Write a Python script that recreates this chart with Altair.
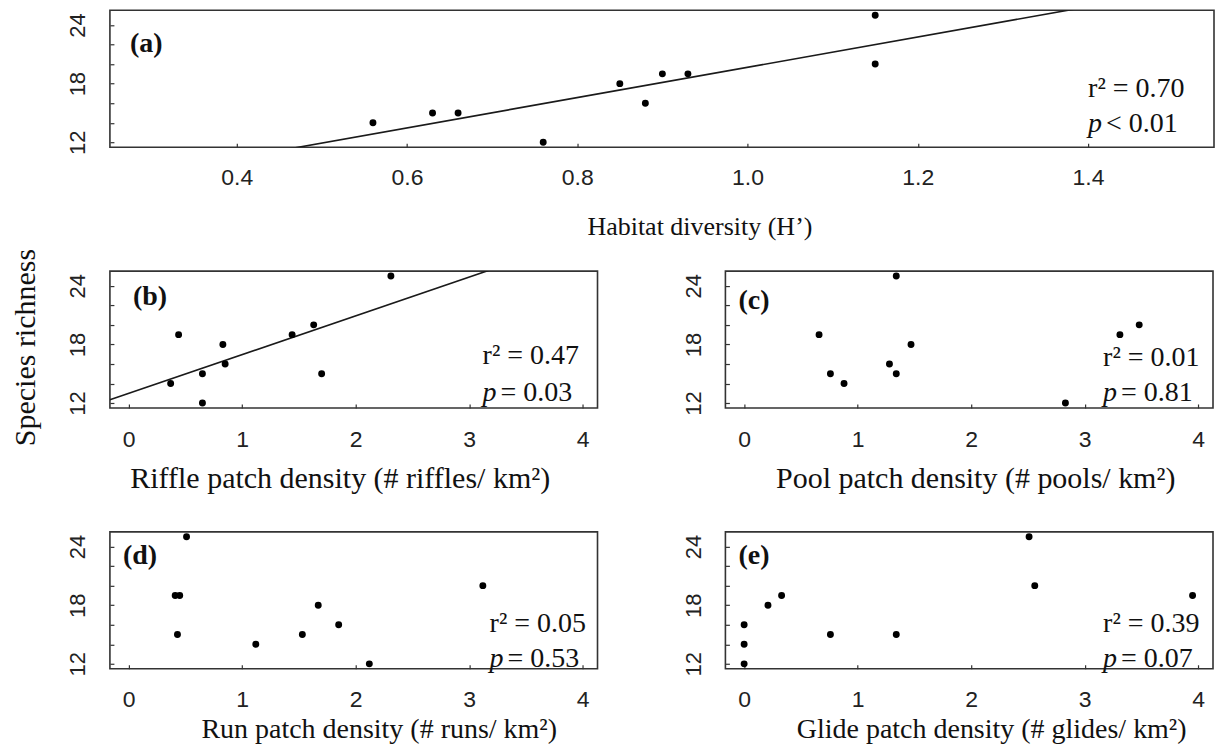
import altair as alt
import pandas as pd

# ---------------- data ----------------
habitat_diversity = [0.56, 0.63, 0.66, 0.76, 0.85, 0.88, 0.90, 0.93, 1.15, 1.15]
richness_a = [14, 15, 15, 12, 18, 16, 19, 19, 25, 20]

riffle_density = [0.37, 0.44, 0.65, 0.65, 0.83, 0.85, 1.44, 1.63, 1.70, 2.31]
richness_b = [14, 19, 15, 12, 18, 16, 19, 20, 15, 25]

pool_density = [0.66, 0.76, 0.88, 1.28, 1.34, 1.34, 1.47, 2.83, 3.31, 3.48]
richness_c = [19, 15, 14, 16, 15, 25, 18, 12, 19, 20]

run_density = [0.51, 0.41, 0.45, 0.43, 1.12, 1.53, 1.67, 1.85, 2.12, 3.12]
richness_d = [25, 19, 19, 15, 14, 15, 18, 16, 12, 20]

glide_density = [0.0, 0.0, 0.0, 0.21, 0.33, 0.76, 1.34, 2.51, 2.56, 3.95]
richness_e = [12, 14, 16, 18, 19, 15, 15, 25, 20, 19]

panel_labels = ["(a)", "(b)", "(c)", "(d)", "(e)"]
r2_values = ["0.70", "0.47", "0.01", "0.05", "0.39"]
p_texts = ["< 0.01", "= 0.03", "= 0.81", "= 0.53", "= 0.07"]
x_titles = [
    "Habitat diversity (H’)",
    "Riffle patch density (# riffles/ km²)",
    "Pool patch density (# pools/ km²)",
    "Run patch density (# runs/ km²)",
    "Glide patch density (# glides/ km²)",
]
y_title = "Species richness"
y_ticks = [12, 14, 16, 18, 20, 22, 24]
x_ticks_a = [0.4, 0.6, 0.8, 1.0, 1.2, 1.4]
x_ticks_density = [0, 1, 2, 3, 4]
has_fit = [True, True, False, False, False]

# ---------------- styling / layout ----------------
SERIF = "Liberation Serif"
SANS = "Liberation Sans"
Y_DOMAIN = [11.5, 25.5]
H = 137
ROW_GAP = 124

layouts = [
    dict(w=1105, xd=[0.251, 1.548], xt=x_ticks_a, fmt=".1f", lp=19.5, tx=590, ty=91.5, tfs=26,
         sx=979, sy1=87, sy2=122, lx=20, ly=34),
    dict(w=488, xd=[-0.165, 4.13], xt=x_ticks_density, fmt="d", lp=21, tx=230, ty=84, tfs=30,
         sx=373, sy1=93, sy2=130, lx=23, ly=26, ytitle=True),
    dict(w=488, xd=[-0.165, 4.13], xt=x_ticks_density, fmt="d", lp=21, tx=250, ty=84, tfs=30,
         sx=378, sy1=95, sy2=130, lx=13, ly=30),
    dict(w=488, xd=[-0.165, 4.13], xt=x_ticks_density, fmt="d", lp=20, tx=269, ty=73.2, tfs=28,
         sx=380, sy1=100, sy2=135, lx=13, ly=24),
    dict(w=488, xd=[-0.165, 4.13], xt=x_ticks_density, fmt="d", lp=20, tx=266, ty=73.2, tfs=28,
         sx=378, sy1=100, sy2=135, lx=13, ly=24),
]

series = [
    (habitat_diversity, richness_a),
    (riffle_density, richness_b),
    (pool_density, richness_c),
    (run_density, richness_d),
    (glide_density, richness_e),
]


def make_panel(i):
    xs, ys = series[i]
    lay = layouts[i]
    df = pd.DataFrame({"x": xs, "y": ys})

    x_axis = alt.Axis(
        values=lay["xt"], format=lay["fmt"], title=x_titles[i], offset=-4, tickSize=4,
        labelPadding=lay["lp"], titleX=lay["tx"], titleY=lay["ty"], titleAlign="center",
        titleAnchor="start", titleBaseline="alphabetic", titleFontSize=lay["tfs"],
    )
    y_kwargs = dict(
        values=y_ticks, labelExpr="datum.value % 6 == 0 ? datum.label : ''", offset=-4,
        tickSize=4, labelPadding=25, labelAngle=270, labelAlign="center",
        labelBaseline="alphabetic",
    )
    if lay.get("ytitle"):
        y_kwargs.update(title=y_title, titleAngle=270, titleX=-88, titleY=76,
                        titleAlign="center", titleBaseline="middle", titleFontSize=30)
    else:
        y_kwargs.update(title=None)
    y_axis = alt.Axis(**y_kwargs)

    xenc = alt.X("x:Q", scale=alt.Scale(domain=lay["xd"], nice=False, zero=False), axis=x_axis)
    yenc = alt.Y("y:Q", scale=alt.Scale(domain=Y_DOMAIN, nice=False, zero=False), axis=y_axis)

    layers = []
    if has_fit[i]:
        layers.append(
            alt.Chart(df)
            .transform_regression("x", "y", extent=lay["xd"])
            .mark_line(color="#1a1a1a", strokeWidth=1.6, clip=True)
            .encode(x=xenc, y=yenc)
        )
    layers.append(
        alt.Chart(df).mark_circle(size=48, color="black", opacity=1).encode(x=xenc, y=yenc)
    )

    def txt(t, x, y, **kw):
        base = dict(align="left", baseline="alphabetic", font=SERIF, fontSize=28, color="#111")
        base.update(kw)
        return (
            alt.Chart(pd.DataFrame({"t": [t]}))
            .mark_text(**base)
            .encode(text="t:N", x=alt.value(x), y=alt.value(y))
        )

    layers.append(txt("r² = " + r2_values[i], lay["sx"], lay["sy1"]))
    layers.append(txt("p", lay["sx"], lay["sy2"], fontStyle="italic"))
    layers.append(txt(p_texts[i], lay["sx"] + 18, lay["sy2"]))
    layers.append(txt(panel_labels[i], lay["lx"], lay["ly"], baseline="middle",
                      fontWeight="bold", fontSize=28))

    return alt.layer(*layers).properties(width=lay["w"], height=H)


pa, pb, pc, pd_, pe = [make_panel(i) for i in range(5)]

row2 = alt.hconcat(pb, pc, spacing=128, bounds="flush")
row3 = alt.hconcat(pd_, pe, spacing=128, bounds="flush")

# a nested row counts as zero height in a flush layout, so an invisible
# spacer restores the gap between the second and third rows
spacer = (
    alt.Chart(pd.DataFrame({"t": [0]}))
    .mark_point(opacity=0)
    .encode(x=alt.value(0), y=alt.value(0))
    .properties(width=1, height=H + ROW_GAP - 2 * ROW_GAP,
                view=alt.ViewBackground(stroke="transparent"))
)

chart = (
    alt.vconcat(pa, row2, spacer, row3, spacing=ROW_GAP, bounds="flush")
    .properties(padding={"left": 2, "top": 1, "right": 5, "bottom": 5}, background="white")
    .configure_view(stroke="#333", strokeWidth=1.6)
    .configure_axis(
        grid=False, domain=False, tickColor="#333", tickWidth=1.2,
        labelFont=SANS, labelFontSize=23, labelColor="#222",
        titleFont=SERIF, titleFontWeight="normal", titleColor="#111",
    )
    .configure_axisY(labelFontSize=22)
)

chart.save("out.html", embed_options={"renderer": "svg", "actions": False})
